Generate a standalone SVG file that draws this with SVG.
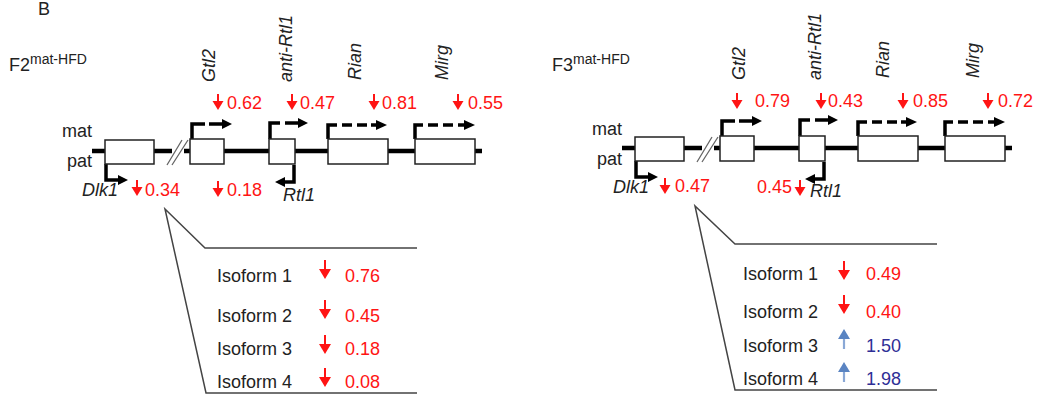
<svg xmlns="http://www.w3.org/2000/svg" xmlns:xlink="http://www.w3.org/1999/xlink" width="1038" height="397" viewBox="0 0 1038 397">
<style>
text{font-family:"Liberation Sans",Arial,sans-serif;font-size:18px;fill:#222}
.it{font-style:italic}
.red{fill:#FF1414}
.navy{fill:#2E2E96}
.sup{font-size:14px}
.box{fill:#fff;stroke:#222;stroke-width:1.5}
.chrom{stroke:#000;stroke-width:4.5;fill:none}
.slash{stroke:#666;stroke-width:1.3;fill:none}
.tss{stroke:#000;stroke-width:3.5;fill:none}
.head{fill:#000}
.wedge{stroke:#444;stroke-width:1.5;fill:none}
</style>
<defs>
<g id="dn"><line x1="0" y1="0" x2="0" y2="9" stroke="#FF1414" stroke-width="2"/><polygon points="-5.5,7 5.5,7 0,16" fill="#FF1414"/></g>
<g id="dnL"><line x1="0" y1="0" x2="0" y2="11" stroke="#FF1414" stroke-width="2"/><polygon points="-6,9 6,9 0,19" fill="#FF1414"/></g>
<g id="upB"><line x1="0" y1="20" x2="0" y2="8" stroke="#8AA8D6" stroke-width="2.2"/><polygon points="-6,10 6,10 0,0" fill="#5A84C2"/></g>
</defs>

<text id="panel-label" x="38" y="15" font-size="17">B</text>

<!-- ================= LEFT PANEL (F2) ================= -->
<g id="title-f2"><text x="9" y="71" font-size="19">F2<tspan class="sup" dy="-7">mat-HFD</tspan></text></g>
<g id="allele-left"><text x="62" y="137">mat</text><text x="67" y="167">pat</text></g>

<g id="connectors-left">
<path class="chrom" d="M92,151 H172 M184,151 H482"/>
<path class="slash" d="M167,165 L182,140 M172,165 L188,140"/>
<path class="tss" d="M106,164 V180 H119"/><polygon class="head" points="118,175 128,180 118,185"/>
<path class="tss" d="M192,139 V124 H224" stroke-dasharray="28 4 100"/><polygon class="head" points="222,119 232,124 222,129"/>
<path class="tss" d="M270,139 V123 H300" stroke-dasharray="26 5 100"/><polygon class="head" points="298,118 308,123 298,128"/>
<path class="tss" d="M328,139 V125 H378" stroke-dasharray="23 5 10 5 10 4 100"/><polygon class="head" points="376,120 387,125 376,130"/>
<path class="tss" d="M415,139 V125 H466" stroke-dasharray="22 5 10 5 10 5 100"/><polygon class="head" points="464,120 475,125 464,130"/>
<path class="tss" d="M294,165 V182 H284"/><polygon class="head" points="285,177 275,182 285,187"/>
<polyline class="wedge" points="417,248 205,248 165,209 206,393 417,393"/>
</g>

<g id="dlk1-left"><rect class="box" x="105" y="140" width="49" height="24"/><text class="it" x="82" y="196">Dlk1</text>
<use href="#dn" x="137" y="180"/><text class="red" x="145" y="196">0.34</text></g>
<g id="gtl2-left"><rect class="box" x="190" y="139" width="34" height="25"/>
<text class="it" transform="translate(215,82) rotate(-90)">Gtl2</text>
<use href="#dn" x="218" y="94"/><text class="red" x="227" y="109">0.62</text>
<use href="#dn" x="218" y="181"/><text class="red" x="227" y="196">0.18</text></g>
<g id="antirtl1-left"><rect class="box" x="269" y="139" width="26" height="25"/>
<text class="it" transform="translate(292,82) rotate(-90)">anti-Rtl1</text>
<use href="#dn" x="292" y="94"/><text class="red" x="300" y="109">0.47</text>
<text class="it" x="283" y="201">Rtl1</text></g>
<g id="rian-left"><rect class="box" x="328" y="139" width="60" height="25"/>
<text class="it" transform="translate(361,80) rotate(-90)">Rian</text>
<use href="#dn" x="374" y="94"/><text class="red" x="382" y="109">0.81</text></g>
<g id="mirg-left"><rect class="box" x="415" y="139" width="60" height="25"/>
<text class="it" transform="translate(448,80) rotate(-90)">Mirg</text>
<use href="#dn" x="458" y="94"/><text class="red" x="468" y="109">0.55</text></g>

<g id="isoforms-left">
<text x="217" y="282">Isoform 1</text><use href="#dnL" x="325" y="260"/><text class="red" x="345" y="282">0.76</text>
<text x="217" y="322">Isoform 2</text><use href="#dnL" x="325" y="300"/><text class="red" x="345" y="322">0.45</text>
<text x="217" y="355">Isoform 3</text><use href="#dnL" x="325" y="335"/><text class="red" x="345" y="355">0.18</text>
<text x="217" y="388">Isoform 4</text><use href="#dnL" x="325" y="368"/><text class="red" x="345" y="388">0.08</text>
</g>

<!-- ================= RIGHT PANEL (F3) ================= -->
<g id="title-f3"><text x="552" y="71" font-size="19">F3<tspan class="sup" dy="-7">mat-HFD</tspan></text></g>
<g id="allele-right"><text x="592" y="135">mat</text><text x="597" y="165">pat</text></g>

<g id="connectors-right" transform="translate(530,-3)">
<path class="chrom" d="M92,151 H172 M184,151 H482"/>
<path class="slash" d="M167,165 L182,140 M172,165 L188,140"/>
<path class="tss" d="M106,164 V180 H119"/><polygon class="head" points="118,175 128,180 118,185"/>
<path class="tss" d="M192,139 V124 H224" stroke-dasharray="28 4 100"/><polygon class="head" points="222,119 232,124 222,129"/>
<path class="tss" d="M270,139 V123 H300" stroke-dasharray="26 5 100"/><polygon class="head" points="298,118 308,123 298,128"/>
<path class="tss" d="M328,139 V125 H378" stroke-dasharray="23 5 10 5 10 4 100"/><polygon class="head" points="376,120 387,125 376,130"/>
<path class="tss" d="M415,139 V125 H466" stroke-dasharray="22 5 10 5 10 5 100"/><polygon class="head" points="464,120 475,125 464,130"/>
<path class="tss" d="M294,165 V182 H284"/><polygon class="head" points="285,177 275,182 285,187"/>
</g>
<g id="wedge-right"><polyline class="wedge" points="937,244 735,244 695,206 735,390 937,390"/></g>

<g id="dlk1-right"><rect class="box" x="635" y="137" width="49" height="24"/><text class="it" x="613" y="193">Dlk1</text>
<use href="#dn" x="665" y="178"/><text class="red" x="675" y="192">0.47</text></g>
<g id="gtl2-right"><rect class="box" x="720" y="136" width="34" height="25"/>
<text class="it" transform="translate(745,80) rotate(-90)">Gtl2</text>
<use href="#dn" x="737" y="93"/><text class="red" x="755" y="107">0.79</text></g>
<g id="antirtl1-right"><rect class="box" x="799" y="136" width="26" height="25"/>
<text class="it" transform="translate(821,80) rotate(-90)">anti-Rtl1</text>
<use href="#dn" x="821" y="93"/><text class="red" x="828" y="107">0.43</text>
<text class="red" x="757" y="193">0.45</text><use href="#dn" x="800" y="180"/>
<text class="it" x="810" y="197">Rtl1</text></g>
<g id="rian-right"><rect class="box" x="858" y="136" width="60" height="25"/>
<text class="it" transform="translate(889,78) rotate(-90)">Rian</text>
<use href="#dn" x="903" y="93"/><text class="red" x="913" y="107">0.85</text></g>
<g id="mirg-right"><rect class="box" x="945" y="136" width="60" height="25"/>
<text class="it" transform="translate(979,78) rotate(-90)">Mirg</text>
<use href="#dn" x="988" y="93"/><text class="red" x="998" y="107">0.72</text></g>

<g id="isoforms-right">
<text x="743" y="280">Isoform 1</text><use href="#dnL" x="844" y="261"/><text class="red" x="866" y="280">0.49</text>
<text x="743" y="318">Isoform 2</text><use href="#dnL" x="844" y="295"/><text class="red" x="866" y="318">0.40</text>
<text x="743" y="352">Isoform 3</text><use href="#upB" x="844" y="329"/><text class="navy" x="866" y="352">1.50</text>
<text x="743" y="385">Isoform 4</text><use href="#upB" x="844" y="362"/><text class="navy" x="866" y="385">1.98</text>
</g>
</svg>
